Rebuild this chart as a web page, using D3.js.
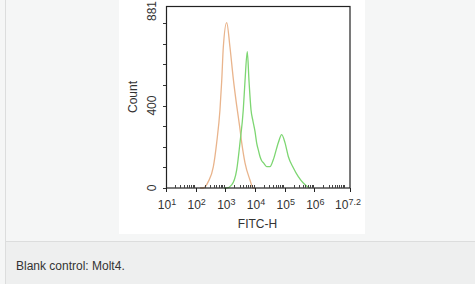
<!DOCTYPE html>
<html><head><meta charset="utf-8">
<script src="https://cdn.jsdelivr.net/npm/d3@7"></script>
<style>
html,body{margin:0;padding:0;background:#f5f6f6;}
svg{display:block;}
</style></head>
<body>
<svg id="c" width="475" height="284"></svg>
<script>
// Blank control (orange) : [log10(FITC-H), count]
const blankLog   = [2.15,2.257,2.425,2.594,2.708,2.819,2.877,2.931,3.045,3.156,3.268,3.382,3.48,3.551,3.662,3.830,3.931,4.0];
const blankCount = [0,   0,    31,   102,  220,  380,  519,  683,  803,  683,  530,  400,  300,  220,  122,  39,   0,    0];
// Stained Molt4 (green)
const stainLog   = [2.95,3.045,3.214,3.382,3.493,3.604,3.662,3.739,3.797,3.864,3.93,3.999,4.056,4.110,4.167,4.224,4.285,4.393,4.504,4.615,4.784,4.898,5.009,5.121,5.289,5.458,5.626,5.784,5.85];
const stainCount = [0,   0,    15,   88,   220,  380,  519,  662,  519,  380,  325, 275,  218,  185,  153,  132,  122,  104,  104,  137,  220,  259,  220,  153,  98,   55,   24,   5,    0];
const xTickExp = ["1","2","3","4","5","6","7.2"];
const xTickVal = [1,2,3,4,5,6,7.2];
const yTickLabels = [0,400,881];
const yMinorTicks = [0,100,200,300,400,500,600,700,800];
const caption = "Blank control: Molt4.";

const svg = d3.select("#c");
// page chrome
svg.append("rect").attr("x",0).attr("y",0).attr("width",475).attr("height",284).attr("fill","#f5f6f6");
svg.append("rect").attr("x",5).attr("y",241).attr("width",470).attr("height",43).attr("fill","#eeefef");
svg.append("line").attr("x1",5.5).attr("x2",5.5).attr("y1",0).attr("y2",284).attr("stroke","#dcdddd");
svg.append("line").attr("x1",5).attr("x2",475).attr("y1",241.5).attr("y2",241.5).attr("stroke","#dcdddd");
svg.append("rect").attr("x",119).attr("y",0).attr("width",246).attr("height",234).attr("fill","#ffffff");
svg.append("text").attr("x",16).attr("y",270).attr("font-family","Liberation Sans, Arial, sans-serif")
  .attr("font-size",12).attr("fill","#333").text(caption);

const x = d3.scaleLog().domain([10, Math.pow(10,7.2)]).range([166,350]);
const y = d3.scaleLinear().domain([0,881]).range([188,6.5]);

const g = svg.append("g");
const font = "Liberation Sans, Arial, sans-serif";

// curves
const line = d3.line().x(d=>x(Math.pow(10,d[0]))).y(d=>y(d[1])).curve(d3.curveMonotoneX);
g.append("path").datum(blankLog.map((v,i)=>[v,blankCount[i]]))
  .attr("d",line).attr("fill","none").attr("stroke","#e9b48c").attr("stroke-width",1.3);
g.append("path").datum(stainLog.map((v,i)=>[v,stainCount[i]]))
  .attr("d",line).attr("fill","none").attr("stroke","#7dd672").attr("stroke-width",1.3);

// frame
g.append("rect").attr("x",166.5).attr("y",6.5).attr("width",183.5).attr("height",181.5)
  .attr("fill","none").attr("stroke","#222").attr("stroke-width",1.2);

// y ticks
g.selectAll(".ymt").data(yMinorTicks).join("line")
  .attr("x1",163).attr("x2",166).attr("y1",d=>Math.round(y(d))+0.5).attr("y2",d=>Math.round(y(d))+0.5)
  .attr("stroke","#333");
g.selectAll(".yl").data(yTickLabels).join("text")
  .attr("transform",d=>`translate(156,${d===881? y(d)+4.5 : y(d)}) rotate(-90)`)
  .attr("text-anchor","middle").attr("font-family",font).attr("font-size",12).attr("fill","#333")
  .text(d=>d);
g.append("text").attr("transform","translate(137,97) rotate(-90)").attr("text-anchor","middle")
  .attr("font-family",font).attr("font-size",12).attr("fill","#333").text("Count");

// x ticks
const minor = [];
for (let e=1;e<7;e++) for (let m=2;m<=9;m++){ const v=m*Math.pow(10,e); if (v<=Math.pow(10,7.2)) minor.push(v); }
minor.push(Math.pow(10,7)); 
g.selectAll(".xmt").data(minor).join("line")
  .attr("x1",d=>Math.round(x(d))+0.5).attr("x2",d=>Math.round(x(d))+0.5).attr("y1",185).attr("y2",188)
  .attr("stroke","#444");
g.selectAll(".xMt").data(xTickVal).join("line")
  .attr("x1",d=>Math.round(x(Math.pow(10,d)))+0.5).attr("x2",d=>Math.round(x(Math.pow(10,d)))+0.5)
  .attr("y1",188).attr("y2",192).attr("stroke","#222");
const xl = g.selectAll(".xl").data(xTickVal).join("text")
  .attr("x",d=>x(Math.pow(10,d))+ (d>7?-2:1)).attr("y",209).attr("text-anchor","middle")
  .attr("font-family",font).attr("font-size",12).attr("fill","#333");
xl.append("tspan").text("10");
xl.append("tspan").attr("dy",-4).attr("font-size",9).text((d,i)=>xTickExp[i]);
g.append("text").attr("x",257.5).attr("y",228).attr("text-anchor","middle")
  .attr("font-family",font).attr("font-size",12).attr("fill","#333").text("FITC-H");
</script>
</body></html>
